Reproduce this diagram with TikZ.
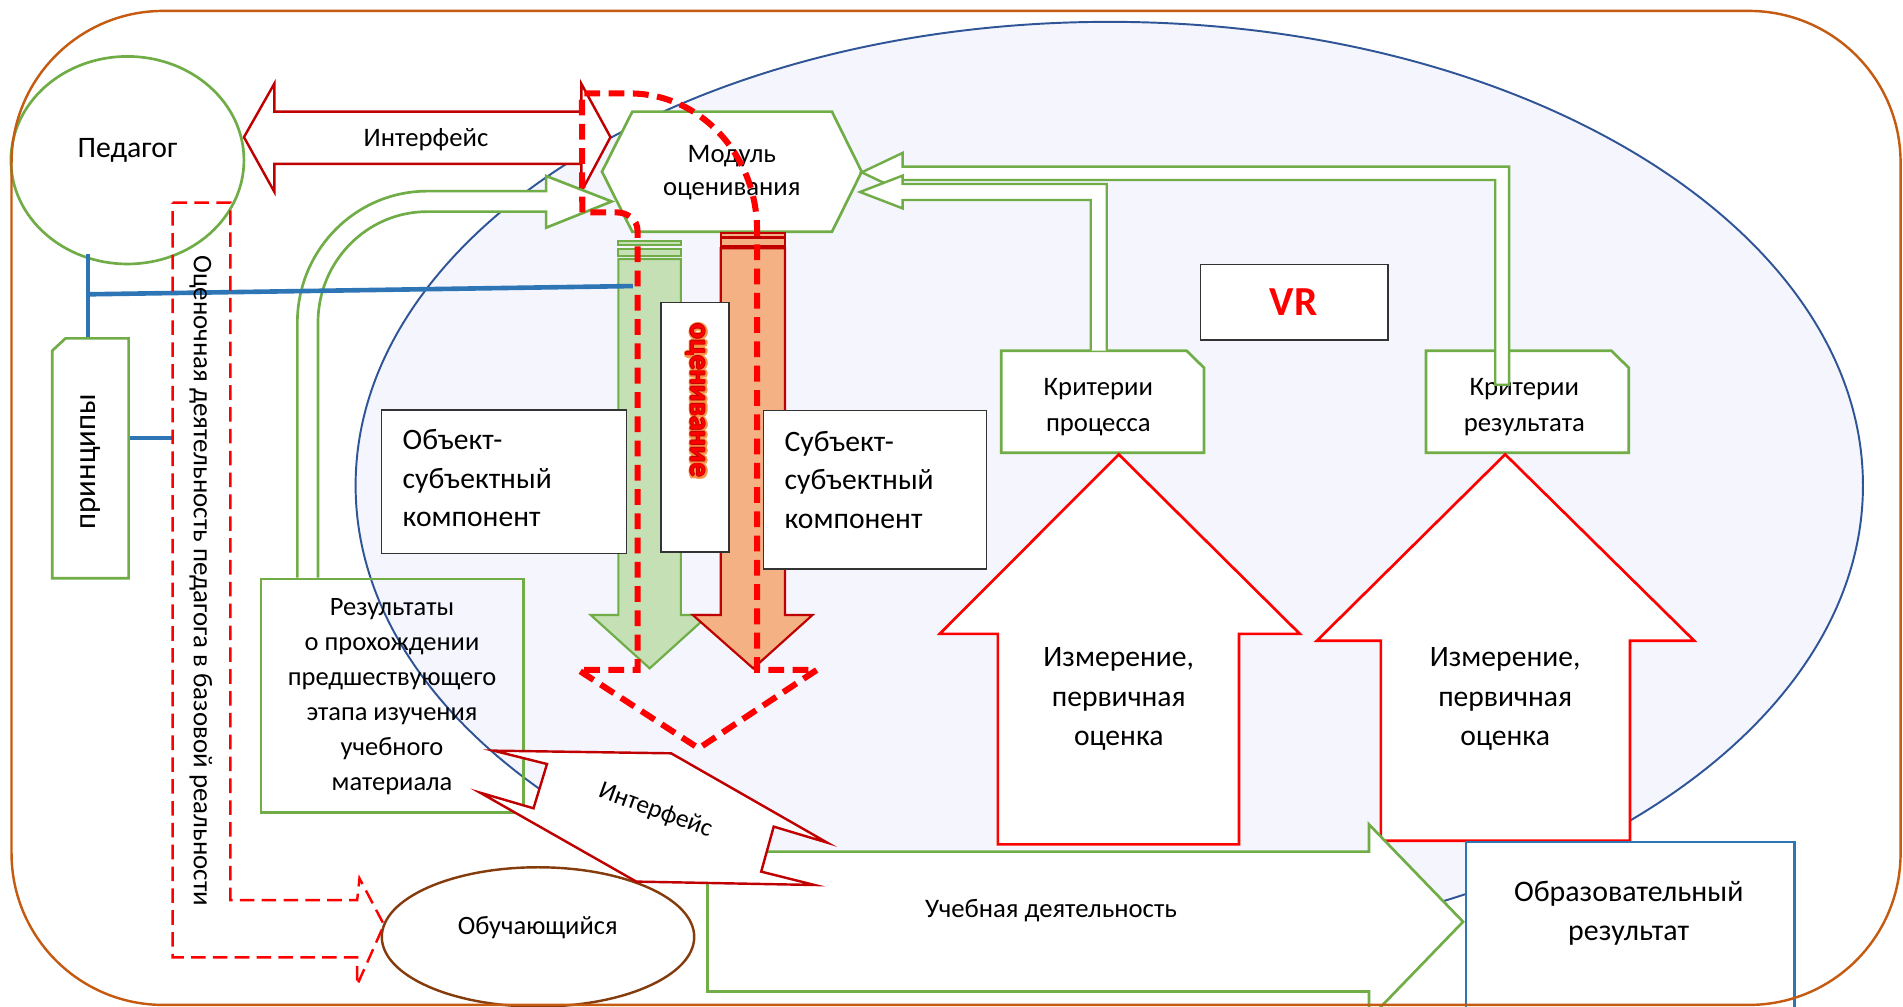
\documentclass[tikz,border=0pt]{standalone}
\usepackage{fontspec}
\setmainfont{Carlito}
\definecolor{cgreen}{HTML}{70AD47}
\definecolor{cdred}{HTML}{C00000}
\definecolor{cred}{HTML}{FF0000}
\definecolor{corange}{HTML}{C55A11}
\definecolor{cnavy}{HTML}{2F5597}
\definecolor{clav}{HTML}{F4F5FD}
\definecolor{cblue}{HTML}{2E75B6}
\definecolor{cbrown}{HTML}{843C0C}
\definecolor{clgreen}{HTML}{C5E0B4}
\definecolor{clorange}{HTML}{F4B183}
\definecolor{cglow}{HTML}{F79646}
\newcommand\myfs[2]{\fontsize{#1}{#2}\selectfont}
\begin{document}
\begin{tikzpicture}[x=1pt,y=-1pt,
  gline/.style={draw=cgreen,line width=2.2pt},
  rline/.style={draw=cdred,line width=2pt},
  bigred/.style={draw=cred,line width=2.2pt,fill=white},
  blk/.style={draw=black!80,line width=1.3pt,fill=white},
  bl/.style={draw=cblue,line width=3.8pt},
  thickdash/.style={draw=cred,line width=5pt,dash pattern=on 13pt off 7pt},
  thindash/.style={draw=cred,line width=2pt,dash pattern=on 12pt off 6pt},
  lbl/.style={inner sep=0pt,align=center}
]
\useasboundingbox (0,0) rectangle (1568,829);
\clip (0,0) rectangle (1568,829);
\fill[white] (0,0) rectangle (1568,829);

% big lavender ellipse (virtual reality)
\filldraw[fill=clav,draw=cnavy,line width=1.6pt] (914,400) ellipse [x radius=621,y radius=382];

% Pedagog
\draw[gline,fill=white] (105,132) ellipse [x radius=96,y radius=85.5];
\node[lbl,font=\myfs{24.5}{28}] (ped) at (105,124) {Педагог};

% top interface double arrow
\draw[rline,fill=white] (201,113) -- (226,69) -- (226,92) -- (479,92) -- (479,69) -- (503,113) -- (479,158) -- (479,135) -- (226,135) -- (226,158) -- cycle;
\node[lbl,font=\myfs{22}{25}] (if1) at (351,115) {Интерфейс};

% U-turn arrow from results to module
\draw[gline,fill=white] (245,476) -- (245,266) .. controls (245,206.1) and (292.9,157.5) .. (352,157.5) -- (450,157.5) -- (450,145) -- (504,166) -- (450,187.6) -- (450,174.4) -- (352,174.4) .. controls (302.3,174.4) and (262,215.4) .. (262,266) -- (262,476);

% module hexagon
\draw[gline,fill=white] (496,141.5) -- (521,92) -- (685.5,92) -- (710,141.5) -- (685.5,191) -- (521,191) -- cycle;
\node[lbl,font=\myfs{22}{27.5}] (mod) at (603,142) {Модуль\\оценивания};

% criteria boxes
\draw[gline,fill=white] (825,289) -- (977.7,289) -- (992,303) -- (992,373) -- (825,373) -- cycle;
\node[lbl,font=\myfs{22}{29}] (kp) at (905,335.5) {Критерии\\процесса};
\draw[gline,fill=white] (1175,289) -- (1327.7,289) -- (1342,303) -- (1342,373) -- (1175,373) -- cycle;
\node[lbl,font=\myfs{22}{29}] (kr) at (1256,335.5) {Критерии\\результата};

% criteria arrows to module
\draw[gline,line width=2pt,fill=white] (1243.5,317) -- (1243.5,137.3) -- (743.7,137.3) -- (743.7,126) -- (710,142) -- (743.7,158) -- (743.7,148.3) -- (1232,148.3) -- (1232,317) -- cycle;
\draw[gline,line width=2pt,fill=white] (911.9,289) -- (911.9,151.6) -- (743.7,151.6) -- (743.7,144.7) -- (708.6,158.2) -- (743.7,171.7) -- (743.7,164.8) -- (898.7,164.8) -- (898.7,289);

% VR box
\draw[blk] (989,218) rectangle (1143.6,280);
\node[lbl,font=\myfs{34}{38}\bfseries,text=cred] (vr) at (1066,249) {VR};

% big up arrows
\draw[bigred] (921.8,374.4) -- (1071,522.3) -- (1020.9,522.3) -- (1020.9,695.7) -- (822.2,695.7) -- (822.2,522.3) -- (774.3,522.3) -- cycle;
\node[lbl,font=\myfs{24.4}{32.5}] (iz1) at (921.8,576) {Измерение,\\первичная\\оценка};
\draw[bigred] (1240.2,374.4) -- (1396,528) -- (1343,528) -- (1343,692.7) -- (1137.8,692.7) -- (1137.8,528) -- (1085,528) -- cycle;
\node[lbl,font=\myfs{24.4}{32.5}] (iz2) at (1240.2,576) {Измерение,\\первичная\\оценка};

% green down arrow
\filldraw[fill=clgreen,draw=cgreen,line width=1.6pt] (509.5,198.6) rectangle (561,201.9);
\filldraw[fill=clgreen,draw=cgreen,line width=1.6pt] (509.5,205.2) rectangle (561,210.7);
\filldraw[fill=clgreen,draw=cgreen,line width=1.8pt] (509.5,213.4) -- (561,213.4) -- (561,506.7) -- (583.9,506.7) -- (535.3,550.7) -- (486.7,506.7) -- (509.5,506.7) -- cycle;

% orange down arrow
\filldraw[fill=clorange,draw=cdred,line width=1.6pt] (593.8,192.3) rectangle (646.8,195);
\filldraw[fill=clorange,draw=cdred,line width=1.6pt] (593.8,196.4) rectangle (646.8,202.4);
\filldraw[fill=clorange,draw=cdred,line width=1.8pt] (593.8,204.6) -- (646.8,204.6) -- (646.8,506.7) -- (669.5,506.7) -- (620.6,550.7) -- (570.8,506.7) -- (593.8,506.7) -- cycle;

% ocenivanie box
\draw[blk] (544.6,249.4) rectangle (600.7,455);
\foreach \a in {0,45,...,315}
  \node[lbl,rotate=-90,font=\myfs{24}{28}\bfseries,text=cglow,shift={(\a:2pt)}] (glow\a) at (573.5,330.5) {оценивание};
\foreach \a in {0,90,180,270}
  \node[lbl,rotate=-90,font=\myfs{24}{28}\bfseries,text=cdred,shift={(\a:0.7pt)}] (edge\a) at (573,330) {оценивание};
\node[lbl,rotate=-90,font=\myfs{24}{28}\bfseries,text=cred] (ocv) at (573,330) {оценивание};

% object-subject and subject-subject boxes
\draw[blk] (314.5,337.8) rectangle (516.3,455.9);
\node[inner sep=0pt,align=left,anchor=west,font=\myfs{24.4}{31.6}] (os) at (331.6,394) {Объект-\\субъектный\\компонент};
\draw[blk] (629,338.4) rectangle (813,469);
\node[inner sep=0pt,align=left,anchor=west,font=\myfs{24.4}{31.6}] (ss) at (646.3,395.5) {Субъект-\\субъектный\\компонент};

% thick red dashed outline
\draw[thickdash] (479.8,175) -- (479.5,77) -- (519,77) .. controls (576.9,77) and (623.8,127.6) .. (623.8,190) -- (623.8,552) -- (673,552) -- (575.7,616.6) -- (476.4,552) -- (525.3,552) -- (525.3,190) .. controls (525.3,181) and (517,175) .. (508,175) -- cycle;

% blue connectors
\draw[bl] (72.6,209.3) -- (72.6,278.8);
\draw[bl] (72.6,242.5) -- (521.4,235.7);
\draw[bl] (106,361) -- (142.2,361);

% principles box
\draw[gline,fill=white] (43,289) -- (54,278.8) -- (106,278.8) -- (106,476.5) -- (43,476.5) -- cycle;
\node[lbl,rotate=90,font=\myfs{25.4}{28}] (pr) at (74.5,380.4) {принципы};

% thin dashed arrow: evaluative activity of the teacher
\draw[thindash] (142.2,167) -- (189.8,167) -- (189.8,741.6) -- (294.3,741.6) -- (296.2,723.7) -- (316.4,762) -- (294.3,811.6) -- (294.3,788.8) -- (142.2,788.8) -- cycle;
\node[lbl,rotate=-90,font=\myfs{22.2}{24}] (od) at (165.5,478.5) {Оценочная деятельность педагога в базовой реальности};

% results box
\draw[gline] (215,477) rectangle (431.6,669.3);
\node[lbl,font=\myfs{21.8}{28.9}] (res) at (323,574) {Результаты\\о прохождении\\предшествующего\\этапа изучения\\учебного\\материала};

% learning activity arrow
\draw[gline,fill=white] (583,701.7) -- (1128,701.7) -- (1128,679.3) -- (1205.5,759.5) -- (1128,839.7) -- (1128,817) -- (583,817) -- cycle;
\node[lbl,font=\myfs{22}{24}] (ud) at (866,750.6) {Учебная деятельность};

% learner ellipse
\draw[draw=cbrown,line width=2pt,fill=white] (443.3,772) ellipse [x radius=128.7,y radius=57.4];
\node[lbl,font=\myfs{21.8}{24}] (ob) at (443,764.3) {Обучающийся};

% lower interface arrow
\draw[rline,fill=white] (406.5,618.5) -- (553,620.7) -- (681.6,694.3) -- (637.5,681.1) -- (627.2,718.2) -- (671.3,729.2) -- (524.3,726.4) -- (395.5,653.1) -- (439.6,666) -- (450.7,629.5) -- cycle;
\node[lbl,rotate=-20,font=\myfs{21}{24}] (if2) at (540,668) {Интерфейс};

% educational result box
\draw[draw=cblue,line width=2pt,fill=white] (1208,693.6) rectangle (1478.5,840);
\node[lbl,font=\myfs{24.6}{32.6}] (er) at (1342,752.3) {Образовательный\\результат};

% outer frame
\draw[draw=corange,line width=2pt,rounded corners=125pt] (9.5,9) rectangle (1566,828);
\end{tikzpicture}
\end{document}
